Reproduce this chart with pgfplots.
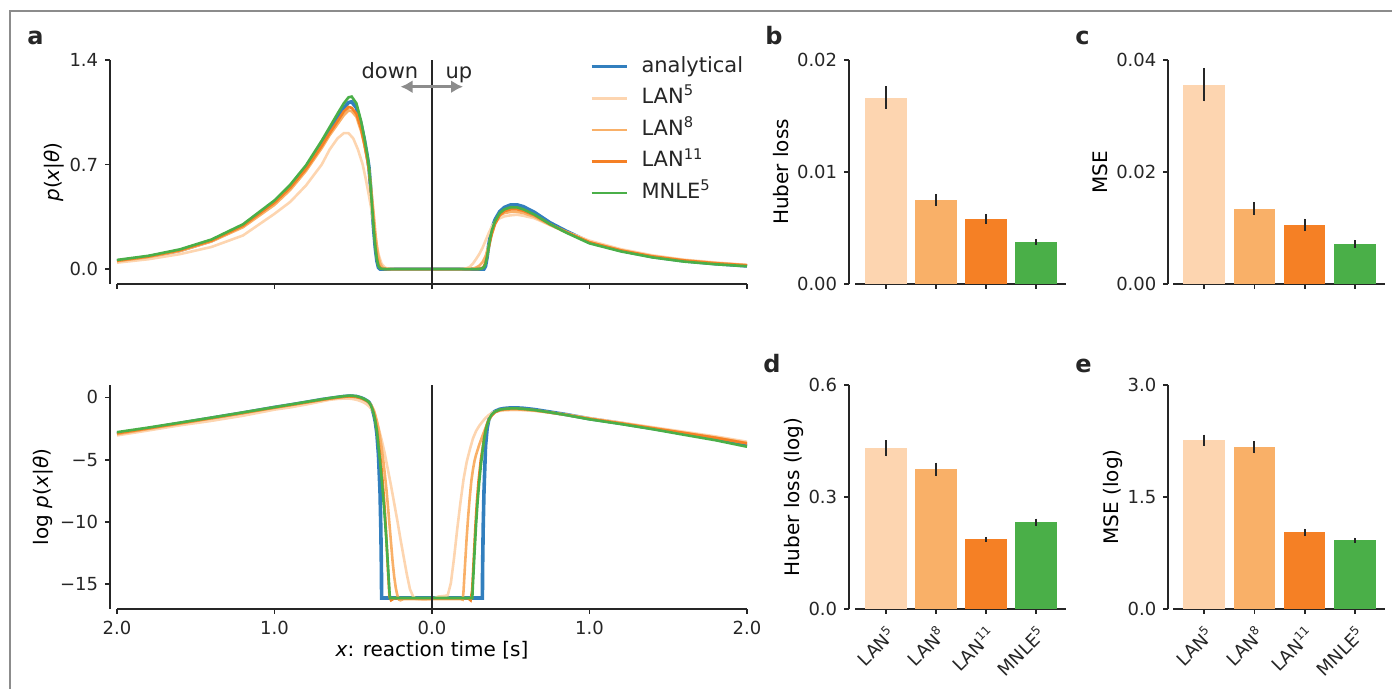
\documentclass[border=0pt]{standalone}
\usepackage{fontspec}
\setmainfont{DejaVu Sans}
\usepackage{pgfplots}
\pgfplotsset{compat=1.18}
\usetikzlibrary{arrows.meta}

\definecolor{cAna}{RGB}{50,127,190}
\definecolor{cLa}{RGB}{253,213,176}
\definecolor{cLb}{RGB}{249,176,104}
\definecolor{cLc}{RGB}{245,128,37}
\definecolor{cMN}{RGB}{74,175,72}
\definecolor{spine}{RGB}{38,38,38}

\pgfplotsset{
  base/.style={
    scale only axis,
    axis lines*=left,
    axis line style={line width=0.9pt, spine},
    tick align=outside,
    major tick length=2.4pt,
    tick style={line width=0.9pt, spine},
    tick label style={font=\fontsize{9}{10}\selectfont, text=spine},
    label style={font=\fontsize{10.5}{12}\selectfont, text=spine},
    scaled y ticks=false, scaled x ticks=false,
    clip=false,
  },
  ylab/.style={every axis y label/.style={at={(rel axis cs:0,0.5)}, rotate=90, anchor=center, yshift=#1}},
  barax/.style={
    base, width=105.5pt, height=112pt, xmin=-0.62, xmax=3.6, ymin=0,
    xtick={0,1,2,3},
  },
  barplot/.style={ybar, bar width=0.83, bar shift=0pt, fill=#1, draw=none,
    error bars/.cd, y dir=both, y explicit, error mark=none,
    error bar style={line width=1pt, spine}},
}

\begin{document}
\begin{tikzpicture}
\useasboundingbox (0,0) rectangle (696pt,-344.5pt);
\draw[color={rgb,255:red,140;green,140;blue,140}, line width=0.8pt] (5pt,-344.5pt) -- (5pt,-5.5pt) -- (696pt,-5.5pt);

% ---------------- top left: density
\begin{axis}[base, at={(58.5pt,-30pt)}, anchor=north west, width=315pt, height=112pt,
  xmin=-2, xmax=2, ymin=-0.1, ymax=1.4, axis y line shift=3.5pt,
  xtick={-2,-1,0,1,2}, xticklabels={}, ytick={0,0.7,1.4}, yticklabels={0.0,0.7,1.4},
  ylabel={\textit{p}(\textit{x}|\textit{θ})}, ylab=31.5pt,
  legend cell align=left,
  legend image code/.code={\draw[#1] (0pt,0pt) -- (17.5pt,0pt);},
  legend style={draw=none, fill=none, inner sep=0pt, at={(axis cs:1.0,1.435)}, anchor=north west,
    font=\fontsize{10.5}{12}\selectfont, row sep=4.3pt,
    nodes={inner sep=1pt, text height=7.5pt, text depth=2pt, text=spine},
    /tikz/every odd column/.append style={column sep=5.5pt}},
]
\addplot[cAna, line width=1.8pt] coordinates {(-2.0,0.054)(-1.8,0.082)(-1.6,0.125)(-1.4,0.19)(-1.2,0.29)(-1.0,0.45)(-0.9,0.55)(-0.8,0.68)(-0.7,0.84)(-0.65,0.92)(-0.6,1.01)(-0.56,1.08)(-0.53,1.115)(-0.51,1.12)(-0.48,1.08)(-0.45,0.97)(-0.43,0.87)(-0.41,0.75)(-0.40,0.68)(-0.39,0.55)(-0.38,0.40)(-0.37,0.26)(-0.36,0.14)(-0.35,0.055)(-0.34,0.01)(-0.33,0.0005)(-0.32,0)(0.32,0)(0.33,0.0005)(0.34,0.02)(0.35,0.08)(0.36,0.16)(0.37,0.22)(0.38,0.27)(0.40,0.33)(0.43,0.385)(0.46,0.413)(0.50,0.43)(0.54,0.43)(0.58,0.418)(0.65,0.38)(0.75,0.31)(0.85,0.255)(1.0,0.18)(1.2,0.125)(1.4,0.083)(1.6,0.055)(1.8,0.036)(2.0,0.021)};
\addplot[cLa, line width=1.3pt] coordinates {(-2.0,0.043)(-1.8,0.066)(-1.6,0.10)(-1.4,0.148)(-1.2,0.225)(-1.0,0.37)(-0.9,0.45)(-0.8,0.56)(-0.7,0.70)(-0.65,0.80)(-0.6,0.875)(-0.56,0.91)(-0.53,0.91)(-0.50,0.875)(-0.47,0.80)(-0.44,0.70)(-0.42,0.60)(-0.40,0.49)(-0.38,0.37)(-0.36,0.22)(-0.34,0.10)(-0.32,0.035)(-0.30,0.011)(-0.28,0.003)(-0.26,0.0008)(-0.24,0)(0.18,0)(0.20,0.0014)(0.22,0.0055)(0.24,0.015)(0.26,0.037)(0.28,0.067)(0.30,0.10)(0.32,0.14)(0.34,0.19)(0.36,0.24)(0.38,0.285)(0.40,0.315)(0.43,0.34)(0.46,0.353)(0.50,0.36)(0.54,0.364)(0.58,0.357)(0.65,0.34)(0.75,0.295)(0.85,0.25)(1.0,0.19)(1.2,0.133)(1.4,0.092)(1.6,0.063)(1.8,0.044)(2.0,0.028)};
\addplot[cLb, line width=1.3pt] coordinates {(-2.0,0.052)(-1.8,0.080)(-1.6,0.121)(-1.4,0.185)(-1.2,0.28)(-1.0,0.43)(-0.9,0.53)(-0.8,0.657)(-0.7,0.81)(-0.65,0.896)(-0.6,0.97)(-0.56,1.03)(-0.53,1.062)(-0.51,1.057)(-0.48,1.02)(-0.45,0.923)(-0.43,0.835)(-0.41,0.726)(-0.40,0.664)(-0.39,0.577)(-0.38,0.472)(-0.37,0.368)(-0.36,0.247)(-0.35,0.15)(-0.34,0.082)(-0.33,0.041)(-0.32,0.018)(-0.31,0.0067)(-0.30,0.0022)(-0.28,0.0002)(-0.26,0)(0.20,0)(0.24,0.0003)(0.26,0.003)(0.28,0.01)(0.30,0.022)(0.32,0.045)(0.34,0.086)(0.36,0.157)(0.38,0.242)(0.40,0.313)(0.43,0.36)(0.46,0.375)(0.50,0.383)(0.54,0.383)(0.58,0.375)(0.65,0.35)(0.75,0.295)(0.85,0.247)(1.0,0.18)(1.2,0.126)(1.4,0.086)(1.6,0.058)(1.8,0.04)(2.0,0.026)};
\addplot[cLc, line width=1.3pt] coordinates {(-2.0,0.056)(-1.8,0.084)(-1.6,0.126)(-1.4,0.19)(-1.2,0.29)(-1.0,0.445)(-0.9,0.545)(-0.8,0.67)(-0.7,0.825)(-0.65,0.91)(-0.6,0.99)(-0.56,1.055)(-0.53,1.085)(-0.51,1.08)(-0.48,1.04)(-0.45,0.94)(-0.43,0.84)(-0.41,0.73)(-0.40,0.66)(-0.39,0.55)(-0.38,0.42)(-0.37,0.29)(-0.36,0.17)(-0.35,0.08)(-0.34,0.03)(-0.33,0.01)(-0.32,0.003)(-0.30,0.0002)(-0.28,0)(0.255,0)(0.28,0.0001)(0.30,0.001)(0.32,0.008)(0.33,0.02)(0.34,0.045)(0.35,0.09)(0.36,0.14)(0.37,0.19)(0.38,0.235)(0.40,0.30)(0.43,0.36)(0.46,0.388)(0.50,0.40)(0.54,0.40)(0.58,0.39)(0.65,0.36)(0.75,0.30)(0.85,0.25)(1.0,0.18)(1.2,0.125)(1.4,0.085)(1.6,0.058)(1.8,0.039)(2.0,0.025)};
\addplot[cMN, line width=1.3pt] coordinates {(-2.0,0.061)(-1.8,0.089)(-1.6,0.132)(-1.4,0.198)(-1.2,0.30)(-1.0,0.46)(-0.9,0.565)(-0.8,0.695)(-0.7,0.86)(-0.65,0.95)(-0.6,1.04)(-0.56,1.11)(-0.53,1.15)(-0.51,1.155)(-0.48,1.11)(-0.45,0.99)(-0.43,0.88)(-0.41,0.76)(-0.40,0.68)(-0.39,0.56)(-0.38,0.41)(-0.37,0.27)(-0.36,0.15)(-0.35,0.065)(-0.34,0.02)(-0.33,0.006)(-0.32,0.0015)(-0.30,0.0001)(-0.27,0)(0.26,0)(0.29,0.0001)(0.31,0.001)(0.33,0.012)(0.34,0.035)(0.35,0.085)(0.36,0.15)(0.37,0.21)(0.38,0.26)(0.40,0.32)(0.43,0.375)(0.46,0.40)(0.50,0.414)(0.54,0.413)(0.58,0.40)(0.65,0.365)(0.75,0.30)(0.85,0.245)(1.0,0.172)(1.2,0.118)(1.4,0.078)(1.6,0.05)(1.8,0.032)(2.0,0.019)};
\legend{analytical, LAN\textsuperscript{5}, LAN\textsuperscript{8}, LAN\textsuperscript{11}, MNLE\textsuperscript{5}}
\addplot[spine, line width=0.9pt, forget plot] coordinates {(0,-0.1) (0,1.4)};
\draw[{Latex[length=6pt,width=6.5pt]}-{Latex[length=6pt,width=6.5pt]}, line width=1.7pt, color={rgb,255:red,140;green,140;blue,140}] (axis cs:-0.2,1.221) -- (axis cs:0.197,1.221);
\node[anchor=base, font=\fontsize{10.5}{12}\selectfont, text=spine, inner sep=0pt] at (axis cs:-0.267,1.279) {down};
\node[anchor=base, font=\fontsize{10.5}{12}\selectfont, text=spine, inner sep=0pt] at (axis cs:0.171,1.279) {up};
\end{axis}

% ---------------- bottom left: log density
\begin{axis}[base, at={(58.5pt,-192.5pt)}, anchor=north west, width=315pt, height=112pt,
  xmin=-2, xmax=2, ymin=-17, ymax=1, axis y line shift=3.5pt,
  xtick={-2,-1,0,1,2}, xticklabels={2.0,1.0,0.0,1.0,2.0},
  ytick={-15,-10,-5,0}, yticklabels={−15,−10,−5,0},
  ylabel={log \textit{p}(\textit{x}|\textit{θ})}, ylab=37pt,
  xlabel={\textit{x}: reaction time [s]},
  every axis x label/.style={at={(rel axis cs:0.5,0)}, anchor=center, yshift=-20.5pt},
]
\addplot[cAna, line width=1.8pt] coordinates {(-2.0,-2.92)(-1.8,-2.50)(-1.6,-2.08)(-1.4,-1.66)(-1.2,-1.24)(-1.0,-0.80)(-0.9,-0.60)(-0.8,-0.39)(-0.7,-0.17)(-0.65,-0.08)(-0.6,0.01)(-0.56,0.077)(-0.52,0.113)(-0.48,0.077)(-0.45,-0.03)(-0.43,-0.14)(-0.41,-0.29)(-0.40,-0.39)(-0.39,-0.60)(-0.38,-0.92)(-0.37,-1.35)(-0.36,-1.97)(-0.35,-2.9)(-0.34,-4.6)(-0.33,-7.6)(-0.325,-10.5)(-0.321,-14)(-0.32,-16.12)(0.32,-16.12)(0.321,-14)(0.325,-10.5)(0.33,-7.6)(0.34,-3.9)(0.35,-2.5)(0.36,-1.83)(0.37,-1.5)(0.38,-1.31)(0.40,-1.11)(0.43,-0.95)(0.46,-0.88)(0.50,-0.84)(0.54,-0.84)(0.58,-0.87)(0.65,-0.97)(0.75,-1.17)(0.85,-1.37)(1.0,-1.71)(1.2,-2.08)(1.4,-2.49)(1.6,-2.90)(1.8,-3.32)(2.0,-3.86)};
\addplot[cLa, line width=1.3pt] coordinates {(-2.0,-3.05)(-1.8,-2.65)(-1.6,-2.24)(-1.4,-1.88)(-1.2,-1.47)(-1.0,-0.98)(-0.9,-0.80)(-0.8,-0.57)(-0.7,-0.32)(-0.65,-0.19)(-0.6,-0.12)(-0.56,-0.09)(-0.53,-0.09)(-0.50,-0.13)(-0.47,-0.22)(-0.44,-0.36)(-0.42,-0.50)(-0.40,-0.71)(-0.38,-1.0)(-0.36,-1.5)(-0.34,-2.4)(-0.32,-3.4)(-0.30,-4.5)(-0.28,-5.8)(-0.26,-7.1)(-0.24,-8.5)(-0.22,-9.9)(-0.20,-11.4)(-0.18,-12.8)(-0.16,-14.2)(-0.14,-15.4)(-0.12,-16.0)(-0.10,-16.2)(-0.05,-16.25)(0.0,-16.2)(0.04,-16.0)(0.08,-15.95)(0.10,-15.9)(0.12,-14.9)(0.14,-12.9)(0.16,-10.6)(0.18,-8.5)(0.20,-6.6)(0.22,-5.2)(0.24,-4.2)(0.26,-3.3)(0.28,-2.7)(0.30,-2.28)(0.32,-1.95)(0.34,-1.65)(0.36,-1.42)(0.38,-1.25)(0.40,-1.15)(0.43,-1.08)(0.46,-1.04)(0.50,-1.02)(0.54,-1.01)(0.58,-1.03)(0.65,-1.08)(0.75,-1.22)(0.85,-1.38)(1.0,-1.66)(1.2,-2.02)(1.4,-2.39)(1.6,-2.76)(1.8,-3.13)(2.0,-3.56)};
\addplot[cLb, line width=1.3pt] coordinates {(-2.0,-2.95)(-1.8,-2.53)(-1.6,-2.11)(-1.4,-1.69)(-1.2,-1.27)(-1.0,-0.84)(-0.9,-0.63)(-0.8,-0.42)(-0.7,-0.21)(-0.65,-0.11)(-0.6,-0.03)(-0.56,0.03)(-0.53,0.06)(-0.51,0.055)(-0.48,0.02)(-0.45,-0.08)(-0.43,-0.18)(-0.41,-0.32)(-0.40,-0.41)(-0.39,-0.55)(-0.38,-0.75)(-0.37,-1.0)(-0.36,-1.4)(-0.35,-1.9)(-0.34,-2.5)(-0.33,-3.2)(-0.32,-4.0)(-0.31,-5.0)(-0.30,-6.1)(-0.29,-7.3)(-0.28,-8.7)(-0.27,-10.2)(-0.26,-11.7)(-0.25,-13.2)(-0.24,-14.4)(-0.23,-15.3)(-0.22,-15.9)(-0.21,-16.25)(-0.20,-16.3)(-0.18,-16.2)(0.18,-16.2)(0.195,-16.25)(0.20,-15.6)(0.21,-13.4)(0.22,-11.3)(0.23,-9.5)(0.24,-8.0)(0.25,-6.7)(0.26,-5.8)(0.27,-5.1)(0.28,-4.6)(0.29,-4.2)(0.30,-3.8)(0.32,-3.1)(0.34,-2.45)(0.36,-1.85)(0.38,-1.42)(0.40,-1.16)(0.43,-1.02)(0.46,-0.98)(0.50,-0.96)(0.54,-0.96)(0.58,-0.98)(0.65,-1.05)(0.75,-1.22)(0.85,-1.40)(1.0,-1.71)(1.2,-2.07)(1.4,-2.45)(1.6,-2.84)(1.8,-3.22)(2.0,-3.66)};
\addplot[cLc, line width=1.3pt] coordinates {(-2.0,-2.88)(-1.8,-2.48)(-1.6,-2.07)(-1.4,-1.66)(-1.2,-1.24)(-1.0,-0.81)(-0.9,-0.61)(-0.8,-0.40)(-0.7,-0.19)(-0.65,-0.09)(-0.6,-0.01)(-0.56,0.054)(-0.53,0.082)(-0.51,0.077)(-0.48,0.04)(-0.45,-0.06)(-0.43,-0.17)(-0.41,-0.31)(-0.40,-0.42)(-0.39,-0.60)(-0.38,-0.87)(-0.37,-1.24)(-0.36,-1.77)(-0.35,-2.5)(-0.34,-3.5)(-0.33,-4.6)(-0.32,-5.8)(-0.31,-7.3)(-0.30,-9.0)(-0.29,-11.2)(-0.28,-13.8)(-0.27,-16.0)(-0.26,-16.3)(-0.24,-16.15)(0.23,-16.15)(0.245,-16.3)(0.255,-15.5)(0.265,-13)(0.275,-10.5)(0.285,-8.4)(0.295,-6.8)(0.31,-5.0)(0.32,-4.2)(0.33,-3.3)(0.34,-2.6)(0.35,-2.1)(0.36,-1.8)(0.37,-1.6)(0.38,-1.45)(0.40,-1.2)(0.43,-1.02)(0.46,-0.95)(0.50,-0.92)(0.54,-0.92)(0.58,-0.94)(0.65,-1.02)(0.75,-1.20)(0.85,-1.39)(1.0,-1.71)(1.2,-2.08)(1.4,-2.47)(1.6,-2.85)(1.8,-3.24)(2.0,-3.69)};
\addplot[cMN, line width=1.3pt] coordinates {(-2.0,-2.79)(-1.8,-2.42)(-1.6,-2.02)(-1.4,-1.62)(-1.2,-1.20)(-1.0,-0.78)(-0.9,-0.57)(-0.8,-0.36)(-0.7,-0.15)(-0.65,-0.05)(-0.6,0.04)(-0.56,0.10)(-0.53,0.14)(-0.51,0.144)(-0.48,0.10)(-0.45,-0.01)(-0.43,-0.13)(-0.41,-0.27)(-0.40,-0.39)(-0.39,-0.58)(-0.38,-0.89)(-0.37,-1.31)(-0.36,-1.90)(-0.35,-2.7)(-0.34,-3.9)(-0.33,-5.1)(-0.32,-6.5)(-0.31,-8.0)(-0.30,-9.6)(-0.29,-11.4)(-0.28,-13.4)(-0.27,-15.6)(-0.267,-16.12)(0.256,-16.12)(0.26,-15.0)(0.27,-12.5)(0.28,-10.2)(0.29,-8.3)(0.30,-6.8)(0.31,-5.5)(0.32,-4.4)(0.33,-3.4)(0.34,-2.7)(0.35,-2.2)(0.36,-1.85)(0.37,-1.56)(0.38,-1.35)(0.40,-1.14)(0.43,-0.98)(0.46,-0.92)(0.50,-0.88)(0.54,-0.88)(0.58,-0.92)(0.65,-1.01)(0.75,-1.20)(0.85,-1.41)(1.0,-1.76)(1.2,-2.14)(1.4,-2.55)(1.6,-3.0)(1.8,-3.44)(2.0,-3.96)};
\addplot[spine, line width=0.9pt, forget plot] coordinates {(0,-17) (0,1)};
\end{axis}

% ---------------- b
\begin{axis}[barax, at={(427.5pt,-30pt)}, anchor=north west, ymax=0.02, axis y line shift=3pt,
  xticklabels={}, ytick={0,0.01,0.02}, yticklabels={0.00,0.01,0.02},
  ylabel={Huber loss}, ylab=37pt,
]
\addplot[barplot=cLa] coordinates {(0,0.01665) +- (0,0.001)};
\addplot[barplot=cLb] coordinates {(1,0.00752) +- (0,0.00053)};
\addplot[barplot=cLc] coordinates {(2,0.00582) +- (0,0.00044)};
\addplot[barplot=cMN] coordinates {(3,0.00376) +- (0,0.00027)};
\end{axis}

% ---------------- c
\begin{axis}[barax, at={(586.5pt,-30pt)}, anchor=north west, width=106pt, ymax=0.04, axis y line shift=2.4pt,
  xticklabels={}, ytick={0,0.02,0.04}, yticklabels={0.00,0.02,0.04},
  ylabel={MSE}, ylab=36.5pt,
]
\addplot[barplot=cLa] coordinates {(0,0.0356) +- (0,0.003)};
\addplot[barplot=cLb] coordinates {(1,0.01343) +- (0,0.00115)};
\addplot[barplot=cLc] coordinates {(2,0.01056) +- (0,0.0011)};
\addplot[barplot=cMN] coordinates {(3,0.00716) +- (0,0.0007)};
\end{axis}

% ---------------- d
\begin{axis}[barax, at={(427.5pt,-192.5pt)}, anchor=north west, ymax=0.6, axis y line shift=3pt,
  xticklabels={LAN\textsuperscript{5},LAN\textsuperscript{8},LAN\textsuperscript{11},MNLE\textsuperscript{5}},
  xticklabel style={rotate=45, anchor=north east},
  ytick={0,0.3,0.6}, yticklabels={0.0,0.3,0.6},
  ylabel={Huber loss (log)}, ylab=30.5pt,
]
\addplot[barplot=cLa] coordinates {(0,0.4305) +- (0,0.0215)};
\addplot[barplot=cLb] coordinates {(1,0.374) +- (0,0.018)};
\addplot[barplot=cLc] coordinates {(2,0.1867) +- (0,0.0067)};
\addplot[barplot=cMN] coordinates {(3,0.232) +- (0,0.0103)};
\end{axis}

% ---------------- e
\begin{axis}[barax, at={(586.5pt,-192.5pt)}, anchor=north west, width=106pt, ymax=3.0, axis y line shift=2.4pt,
  xticklabels={LAN\textsuperscript{5},LAN\textsuperscript{8},LAN\textsuperscript{11},MNLE\textsuperscript{5}},
  xticklabel style={rotate=45, anchor=north east},
  ytick={0,1.5,3.0}, yticklabels={0.0,1.5,3.0},
  ylabel={MSE (log)}, ylab=30pt,
]
\addplot[barplot=cLa] coordinates {(0,2.259) +- (0,0.076)};
\addplot[barplot=cLb] coordinates {(1,2.165) +- (0,0.08)};
\addplot[barplot=cLc] coordinates {(2,1.027) +- (0,0.05)};
\addplot[barplot=cMN] coordinates {(3,0.92) +- (0,0.036)};
\end{axis}

% panel letters
\node[anchor=base west, inner sep=0pt, font=\bfseries\fontsize{12}{14}\selectfont, text=spine] at (13.5pt,-22.5pt) {a};
\node[anchor=base west, inner sep=0pt, font=\bfseries\fontsize{12}{14}\selectfont, text=spine] at (382.5pt,-22.5pt) {b};
\node[anchor=base west, inner sep=0pt, font=\bfseries\fontsize{12}{14}\selectfont, text=spine] at (537.5pt,-22.5pt) {c};
\node[anchor=base west, inner sep=0pt, font=\bfseries\fontsize{12}{14}\selectfont, text=spine] at (381.5pt,-186.5pt) {d};
\node[anchor=base west, inner sep=0pt, font=\bfseries\fontsize{12}{14}\selectfont, text=spine] at (537.5pt,-186.5pt) {e};
\end{tikzpicture}
\end{document}
